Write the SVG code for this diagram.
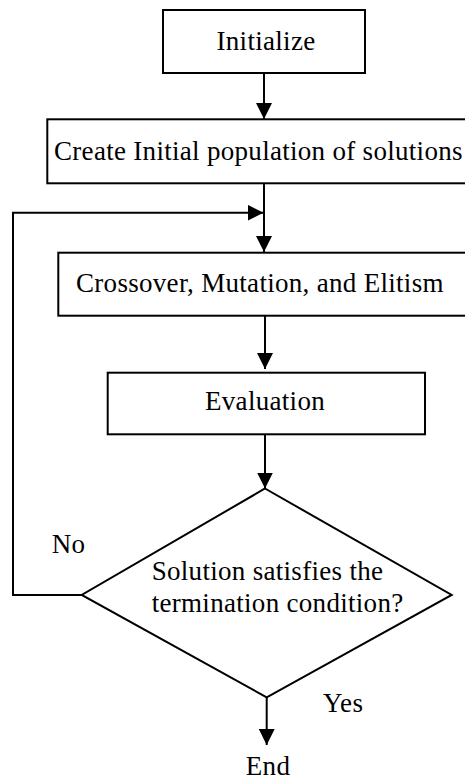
<svg xmlns="http://www.w3.org/2000/svg" width="465" height="780" viewBox="0 0 465 780">
<style>
.box{fill:#fff;stroke:#000;stroke-width:2}
.ln{fill:none;stroke:#000;stroke-width:2}
text{font-family:"Liberation Serif","Times New Roman",serif;font-size:27px;letter-spacing:0.3px;fill:#000}
</style>
<defs>
<marker id="ah" markerWidth="16" markerHeight="16" refX="16" refY="8" orient="auto" markerUnits="userSpaceOnUse">
<path d="M0,0 L16,8 L0,16 Z" fill="#000"/>
</marker>
</defs>
<rect width="465" height="780" fill="#fff"/>
<g id="connectors">
<path class="ln" d="M264,73 V119" marker-end="url(#ah)"/>
<path class="ln" d="M264,183 V252" marker-end="url(#ah)"/>
<path class="ln" d="M13,595 H82 M13,596 V212.7 H263.5" marker-end="url(#ah)"/>
<path class="ln" d="M265,316 V369" marker-end="url(#ah)"/>
<path class="ln" d="M265,434 V488.5" marker-end="url(#ah)"/>
<path class="ln" d="M266.7,697 V745" marker-end="url(#ah)"/>
<text x="51.7" y="553">No</text>
<text x="323" y="712">Yes</text>
</g>
<g id="initialize">
<rect class="box" x="163" y="10" width="202" height="63"/>
<text x="266" y="50" text-anchor="middle">Initialize</text>
</g>
<g id="create">
<rect class="box" x="47.3" y="119.3" width="430" height="64"/>
<text x="54" y="160">Create Initial population of solutions</text>
</g>
<g id="crossover">
<rect class="box" x="58.3" y="252.7" width="420" height="63"/>
<text x="76" y="292">Crossover, Mutation, and Elitism</text>
</g>
<g id="evaluation">
<rect class="box" x="107.7" y="372.7" width="317.3" height="61.6"/>
<text x="265" y="409.5" text-anchor="middle">Evaluation</text>
</g>
<g id="decision">
<polygon class="box" points="265,488.5 451.7,595 266.7,697.3 81.7,595"/>
<text x="151.7" y="580">Solution satisfies the</text>
<text x="151.7" y="611.7">termination condition?</text>
</g>
<g id="end">
<text x="268" y="775" text-anchor="middle">End</text>
</g>
</svg>
